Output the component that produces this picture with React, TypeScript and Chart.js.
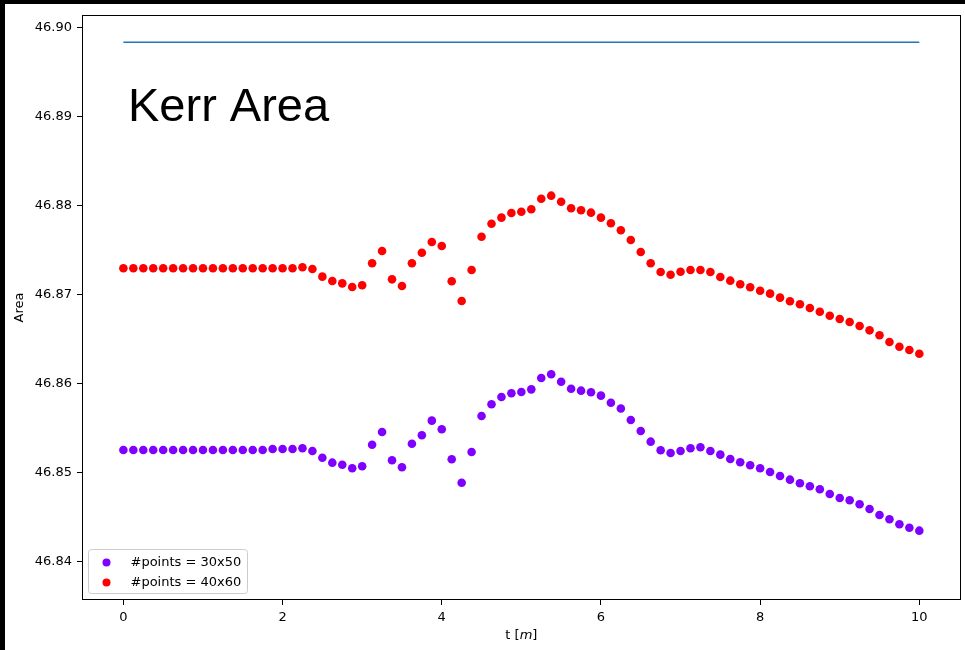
import React, { useEffect, useRef } from "react";
import { Chart, registerables } from "chart.js";

Chart.register(...registerables);

const tValues = [
  0, 0.125, 0.25, 0.375, 0.5, 0.625, 0.75, 0.875, 1, 1.125, 1.25, 1.375, 1.5, 1.625, 1.75, 1.875,
  2, 2.125, 2.25, 2.375, 2.5, 2.625, 2.75, 2.875, 3, 3.125, 3.25, 3.375, 3.5, 3.625, 3.75, 3.875,
  4, 4.125, 4.25, 4.375, 4.5, 4.625, 4.75, 4.875, 5, 5.125, 5.25, 5.375, 5.5, 5.625, 5.75, 5.875,
  6, 6.125, 6.25, 6.375, 6.5, 6.625, 6.75, 6.875, 7, 7.125, 7.25, 7.375, 7.5, 7.625, 7.75, 7.875,
  8, 8.125, 8.25, 8.375, 8.5, 8.625, 8.75, 8.875, 9, 9.125, 9.25, 9.375, 9.5, 9.625, 9.75, 9.875, 10,
];

const kerrArea = 46.8984;
const kerrSpan = [0, 10];

const area30x50 = [
  46.85258, 46.85258, 46.85258, 46.85258, 46.85258, 46.85258, 46.85258, 46.85258,
  46.85258, 46.85258, 46.85258, 46.85258, 46.85258, 46.85258, 46.85258, 46.8527,
  46.8527, 46.8527, 46.85278, 46.85247, 46.85172, 46.85116, 46.85093, 46.85053,
  46.85075, 46.85318, 46.85461, 46.85143, 46.85064, 46.85329, 46.85424, 46.85588,
  46.85491, 46.85154, 46.84891, 46.85236, 46.8564, 46.85772, 46.85854, 46.85896,
  46.8591, 46.8594, 46.86067, 46.86109, 46.86026, 46.85947, 46.85925, 46.85907,
  46.85869, 46.8579, 46.85725, 46.85596, 46.85472, 46.85352, 46.85255, 46.85225,
  46.85247, 46.85278, 46.85289, 46.85247, 46.85206, 46.85157, 46.8512, 46.85087,
  46.85053, 46.85011, 46.84966, 46.84925, 46.84884, 46.84851, 46.84817, 46.84764,
  46.84719, 46.84693, 46.84648, 46.84596, 46.84528, 46.8448, 46.84424, 46.84385, 46.84352,
];

const area40x60 = [
  46.873, 46.873, 46.873, 46.873, 46.873, 46.873, 46.873, 46.873,
  46.873, 46.873, 46.873, 46.873, 46.873, 46.873, 46.873, 46.873,
  46.873, 46.873, 46.87311, 46.87292, 46.87206, 46.87157, 46.87131, 46.8709,
  46.87109, 46.87356, 46.87494, 46.87176, 46.87101, 46.87356, 46.87475, 46.87596,
  46.87551, 46.87154, 46.86933, 46.87281, 46.87655, 46.87801, 46.87869, 46.87921,
  46.87936, 46.87963, 46.88082, 46.88116, 46.88048, 46.87974, 46.87952, 46.87925,
  46.87869, 46.87806, 46.87727, 46.87618, 46.87483, 46.87356, 46.87258, 46.87228,
  46.87262, 46.87281, 46.87281, 46.87258, 46.87202, 46.87161, 46.8712, 46.87087,
  46.87048, 46.87015, 46.8697, 46.86929, 46.86896, 46.86854, 46.86812, 46.86767,
  46.8673, 46.86697, 46.86652, 46.86603, 46.86547, 46.86472, 46.86419, 46.86382, 46.8634,
];

const xTicks = [0, 2, 4, 6, 8, 10];
const yTicks = [46.84, 46.85, 46.86, 46.87, 46.88, 46.89, 46.9];
const seriesLabels = ["#points = 30x50", "#points = 40x60"];
const seriesColors = ["#7f00ff", "#ff0000"];
const lineColor = "#1f77b4";
const annotationText = "Kerr Area";
const xLabelParts = ["t [", "m", "]"];
const yLabel = "Area";

const FONT = "'DejaVu Sans', sans-serif";

const decorPlugin = {
  id: "decor",
  afterDatasetsDraw(chart: any) {
    const { ctx, chartArea: a } = chart;
    ctx.save();
    ctx.fillStyle = "#000";
    ctx.font = "47px 'Liberation Sans', Arial, sans-serif";
    ctx.textBaseline = "alphabetic";
    ctx.textAlign = "left";
    ctx.fillText(annotationText, a.left + 46, a.top + 106);
    ctx.restore();
  },
  afterDraw(chart: any) {
    const { ctx, chartArea: a } = chart;
    ctx.save();
    // frame
    const l = Math.round(a.left) + 0.5;
    const t = Math.round(a.top) + 0.5;
    const r = Math.round(a.right) - 0.5;
    const b = Math.round(a.bottom) - 0.5;
    ctx.strokeStyle = "#000";
    ctx.lineWidth = 1;
    ctx.strokeRect(l, t, r - l, b - t);

    // x axis label with italic m
    const normalFont = `13px ${FONT}`;
    const italicFont = `oblique 13px ${FONT}`;
    ctx.fillStyle = "#000";
    ctx.textBaseline = "middle";
    ctx.textAlign = "left";
    ctx.font = normalFont;
    const w0 = ctx.measureText(xLabelParts[0]).width;
    const w2 = ctx.measureText(xLabelParts[2]).width;
    ctx.font = italicFont;
    const w1 = ctx.measureText(xLabelParts[1]).width;
    const total = w0 + w1 + w2;
    let x = (a.left + a.right) / 2 - total / 2;
    const y = a.bottom + 36;
    ctx.font = normalFont;
    ctx.fillText(xLabelParts[0], x, y);
    x += w0;
    ctx.font = italicFont;
    ctx.fillText(xLabelParts[1], x, y);
    x += w1;
    ctx.font = normalFont;
    ctx.fillText(xLabelParts[2], x, y);

    // legend
    const bx = Math.round(a.left) + 6.5;
    const bw = 159;
    const bh = 44;
    const by = Math.round(a.bottom) - 7 - bh + 0.5;
    const rad = 3;
    ctx.beginPath();
    ctx.moveTo(bx + rad, by);
    ctx.lineTo(bx + bw - rad, by);
    ctx.arcTo(bx + bw, by, bx + bw, by + rad, rad);
    ctx.lineTo(bx + bw, by + bh - rad);
    ctx.arcTo(bx + bw, by + bh, bx + bw - rad, by + bh, rad);
    ctx.lineTo(bx + rad, by + bh);
    ctx.arcTo(bx, by + bh, bx, by + bh - rad, rad);
    ctx.lineTo(bx, by + rad);
    ctx.arcTo(bx, by, bx + rad, by, rad);
    ctx.closePath();
    ctx.fillStyle = "rgba(255,255,255,0.8)";
    ctx.fill();
    ctx.strokeStyle = "#cccccc";
    ctx.lineWidth = 1;
    ctx.stroke();

    ctx.font = normalFont;
    ctx.textBaseline = "middle";
    seriesLabels.forEach((lab, i) => {
      const cy = by + 13 + i * 20;
      ctx.beginPath();
      ctx.arc(bx + 18, cy, 4, 0, Math.PI * 2);
      ctx.fillStyle = seriesColors[i];
      ctx.fill();
      ctx.fillStyle = "#000";
      ctx.fillText(lab, bx + 42, cy);
    });
    ctx.restore();
  },
};

export default function App() {
  const canvasRef = useRef<HTMLCanvasElement | null>(null);

  useEffect(() => {
    const canvas = canvasRef.current;
    if (!canvas) return;
    const tickFont = { family: FONT, size: 13 };
    const chart = new Chart(canvas, {
      type: "scatter",
      data: {
        datasets: [
          {
            label: "Kerr",
            data: kerrSpan.map((t) => ({ x: t, y: kerrArea })),
            showLine: true,
            borderColor: lineColor,
            borderWidth: 1.5,
            pointRadius: 0,
            backgroundColor: lineColor,
          },
          {
            label: seriesLabels[0],
            data: tValues.map((t, i) => ({ x: t, y: area30x50[i] })),
            backgroundColor: seriesColors[0],
            borderWidth: 0,
            pointRadius: 4.3,
          },
          {
            label: seriesLabels[1],
            data: tValues.map((t, i) => ({ x: t, y: area40x60[i] })),
            backgroundColor: seriesColors[1],
            borderWidth: 0,
            pointRadius: 4.3,
          },
        ],
      },
      options: {
        responsive: false,
        maintainAspectRatio: false,
        animation: false,
        devicePixelRatio: 1,
        layout: { padding: { left: 0, top: 11, right: 2, bottom: 0 } },
        plugins: {
          legend: { display: false },
          tooltip: { enabled: false },
        },
        scales: {
          x: {
            type: "linear",
            min: -0.52,
            max: 10.52,
            afterBuildTicks: (s: any) => {
              s.ticks = xTicks.map((v) => ({ value: v }));
            },
            afterFit: (s: any) => {
              s.height = 50;
              s.paddingLeft = 0;
              s.paddingRight = 0;
            },
            ticks: {
              callback: (v: any) => String(v),
              color: "#000",
              font: tickFont,
              padding: 5,
              maxRotation: 0,
              autoSkip: false,
            },
            grid: {
              display: true,
              drawOnChartArea: false,
              drawTicks: true,
              tickLength: 5,
              color: "#000",
              lineWidth: 1,
            },
            border: { display: false },
          },
          y: {
            type: "linear",
            min: 46.83573,
            max: 46.90146,
            afterBuildTicks: (s: any) => {
              s.ticks = yTicks.map((v) => ({ value: v }));
            },
            afterFit: (s: any) => {
              s.width = 77;
              s.paddingTop = 0;
              s.paddingBottom = 0;
            },
            ticks: {
              callback: (v: any) => Number(v).toFixed(2),
              color: "#000",
              font: tickFont,
              padding: 5,
              autoSkip: false,
            },
            grid: {
              display: true,
              drawOnChartArea: false,
              drawTicks: true,
              tickLength: 5,
              color: "#000",
              lineWidth: 1,
            },
            border: { display: false },
            title: {
              display: true,
              text: yLabel,
              color: "#000",
              font: tickFont,
              padding: { top: 7, bottom: 0 },
            },
          },
        },
      },
      plugins: [decorPlugin],
    } as any);
    return () => chart.destroy();
  }, []);

  return (
    <div
      style={{
        position: "fixed",
        left: 0,
        top: 0,
        width: 965,
        height: 650,
        background: "#000",
        overflow: "hidden",
      }}
    >
      <div
        style={{
          position: "absolute",
          left: 5,
          top: 4,
          width: 960,
          height: 646,
          background: "#fff",
        }}
      >
        <canvas ref={canvasRef} width={960} height={646} style={{ display: "block" }} />
      </div>
    </div>
  );
}
